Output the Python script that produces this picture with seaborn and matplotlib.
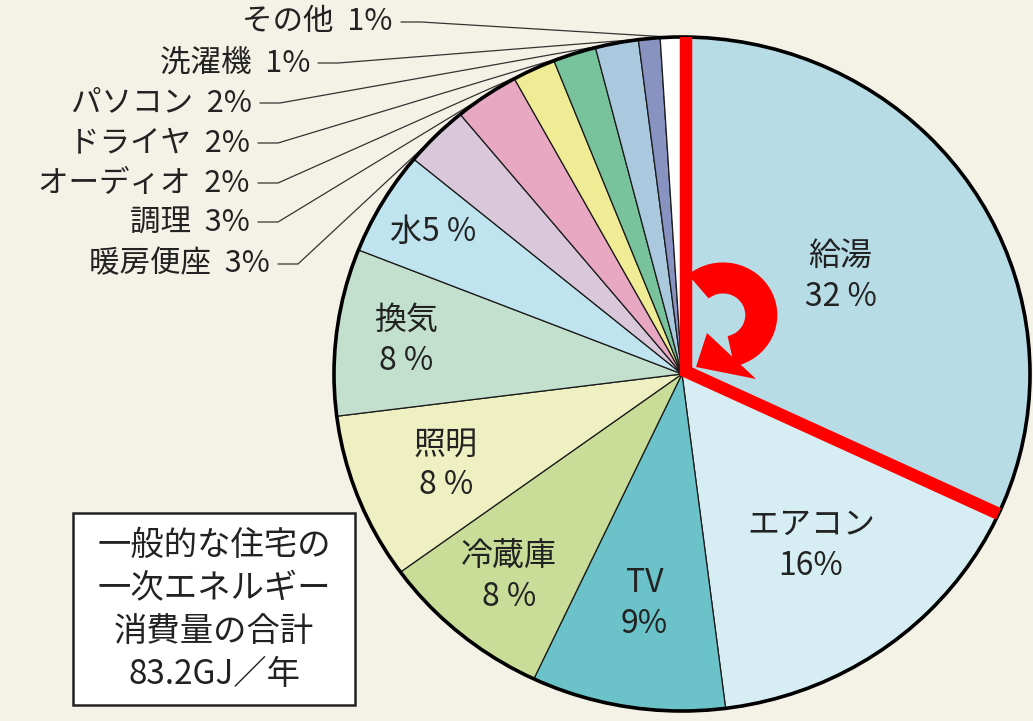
import numpy as np
import matplotlib
matplotlib.use("Agg")
import matplotlib.pyplot as plt
import seaborn as sns
from matplotlib.patches import Wedge, Polygon, Rectangle, Circle

# --- data ---
names = ["給湯", "エアコン", "TV", "冷蔵庫", "照明", "換気", "水",
         "暖房便座", "調理", "オーディオ", "ドライヤ", "パソコン", "洗濯機", "その他"]
shares = [32, 16, 9, 8, 8, 8, 5, 3, 3, 2, 2, 2, 1, 1]
colors = ["#b8dce6", "#d6eef3", "#6cc2c9", "#cadd98", "#eef0c2", "#c3e0cf", "#bfe4ef",
          "#d8c8da", "#e8a8c1", "#f0ec95", "#78c39b", "#aac9df", "#8993c2", "#ffffff"]
inside_text = ["給湯\n32 %", "エアコン\n16%", "TV\n9%", "冷蔵庫\n8 %", "照明\n8 %", "換気\n8 %", "水5 %"]
outside_text = ["暖房便座  3%", "調理  3%", "オーディオ  2%", "ドライヤ  2%",
                "パソコン  2%", "洗濯機  1%", "その他  1%"]
total_text = "一般的な住宅の\n一次エネルギー\n消費量の合計\n83.2GJ／年"

# layout (radius of inside labels, pixel spots of outside labels)
inside_r = [0.54, 0.63, 0.69, 0.78, 0.73, 0.80, 0.83]
out_right = [270, 250, 250, 250, 252, 310, 393]
out_y = [264, 222, 183, 143, 103, 63, 22]

W, H = 1033, 721
cx, cy, rx, ry = 682, 374, 348, 337   # pie centre / radii in pixels


def px(x, y):
    return (x - cx) / rx, (cy - y) / ry


sns.set_theme(style="white", rc={"figure.facecolor": "#f4f1e6", "axes.facecolor": "#f4f1e6"})
plt.rcParams["font.family"] = ["Noto Sans CJK JP", "DejaVu Sans"]

fig = plt.figure(figsize=(W / 100, H / 100), dpi=100)
ax = fig.add_axes([0, 0, 1, 1])
ax.pie(shares, colors=colors, startangle=90, counterclock=False,
       wedgeprops=dict(edgecolor="#1a1a1a", linewidth=0.9))
ax.set_aspect("auto")
ax.set_xlim(px(0, 0)[0], px(W, 0)[0])
ax.set_ylim(px(0, H)[1], px(0, 0)[1])
ax.axis("off")
ax.add_patch(Circle((0, 0), 1, fill=False, ec="black", lw=2.6, zorder=3))

bounds = 90 - 3.6 * np.concatenate([[0], np.cumsum(shares)])
mids = (bounds[:-1] + bounds[1:]) / 2

# inside labels
for i, t in enumerate(inside_text):
    a = np.radians(mids[i])
    ax.text(inside_r[i] * np.cos(a), inside_r[i] * np.sin(a), t, ha="center", va="center",
            fontsize=23, color="#222222", linespacing=1.35, zorder=5)

# outside labels with leader lines
for k, t in enumerate(outside_text):
    i = 7 + k
    x0, y0 = px(out_right[k], out_y[k])
    ax.text(x0, y0, t, ha="right", va="center", fontsize=22, color="#222222", zorder=5)
    xa, _ = px(out_right[k] + 8, 0)
    xb, _ = px(out_right[k] + 28, 0)
    a = np.radians(mids[i])
    ax.plot([xa, xb, np.cos(a)], [y0, y0, np.sin(a)], color="#333333", lw=0.9, zorder=2)

# red outline of the 給湯 wedge
a0, a1 = np.radians(bounds[0]), np.radians(bounds[1])
dx, dy = 4 / rx, 4 / ry
ax.plot([np.cos(a0) + dx, dx, np.cos(a1) + 0.426 * dx, ],
        [np.sin(a0), 0.634 * dy, np.sin(a1) + 0.905 * dy],
        color="#ff0000", lw=9, solid_capstyle="butt", solid_joinstyle="miter", zorder=6)

# curved arrow
acx, acy = px(723, 315)
ax.add_patch(Wedge((acx, acy), 0.156, -78, 130, width=0.092, color="#ff0000", lw=0, zorder=6))
ax.add_patch(Polygon([px(707, 333), px(756, 379), px(696, 367)], closed=True,
                     color="#ff0000", lw=0, zorder=6))

# total box
fig.patches.append(Rectangle((73 / W, 1 - 705 / H), (355 - 73) / W, (705 - 513) / H,
                             transform=fig.transFigure, fc="white", ec="#222222", lw=1.8))
fig.text(214 / W, 1 - 610 / H, total_text, ha="center", va="center", fontsize=24,
         color="#222222", linespacing=1.3)

fig.savefig("out.png", dpi=100, facecolor=fig.get_facecolor())
